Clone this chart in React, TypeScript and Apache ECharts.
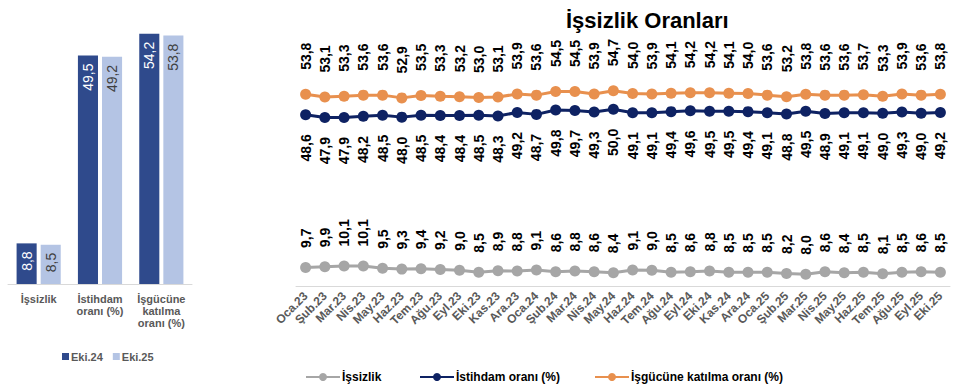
import React, { useEffect, useRef } from "react";
import * as echarts from "echarts";

const barCategories = ["İşsizlik", "İstihdam\noranı (%)", "İşgücüne\nkatılma\noranı (%)"];
const barEki24 = [8.8, 49.5, 54.2];
const barEki25 = [8.5, 49.2, 53.8];

const months = [
  "Oca.23", "Şub.23", "Mar.23", "Nis.23", "May.23", "Haz.23", "Tem.23", "Ağu.23", "Eyl.23", "Eki.23", "Kas.23", "Ara.23",
  "Oca.24", "Şub.24", "Mar.24", "Nis.24", "May.24", "Haz.24", "Tem.24", "Ağu.24", "Eyl.24", "Eki.24", "Kas.24", "Ara.24",
  "Oca.25", "Şub.25", "Mar.25", "Nis.25", "May.25", "Haz.25", "Tem.25", "Ağu.25", "Eyl.25", "Eki.25",
];
const issizlik = [
  9.7, 9.9, 10.1, 10.1, 9.5, 9.3, 9.4, 9.2, 9.0, 8.5, 8.9, 8.8,
  9.1, 8.6, 8.8, 8.6, 8.4, 9.1, 9.0, 8.5, 8.6, 8.8, 8.5, 8.5,
  8.5, 8.2, 8.0, 8.6, 8.4, 8.5, 8.1, 8.5, 8.6, 8.5,
];
const istihdam = [
  48.6, 47.9, 47.9, 48.2, 48.5, 48.0, 48.5, 48.4, 48.4, 48.5, 48.3, 49.2,
  48.7, 49.8, 49.7, 49.3, 50.0, 49.1, 49.1, 49.4, 49.6, 49.5, 49.5, 49.4,
  49.1, 48.8, 49.5, 48.9, 49.1, 49.1, 49.0, 49.3, 49.0, 49.2,
];
const katilma = [
  53.8, 53.1, 53.3, 53.6, 53.6, 52.9, 53.5, 53.3, 53.2, 53.0, 53.1, 53.9,
  53.6, 54.5, 54.5, 53.9, 54.7, 54.0, 53.9, 54.1, 54.2, 54.2, 54.1, 54.0,
  53.6, 53.2, 53.8, 53.6, 53.6, 53.7, 53.3, 53.9, 53.6, 53.8,
];
const lineNames = ["İşsizlik", "İstihdam oranı (%)", "İşgücüne katılma oranı (%)"];

const FONT = "'Liberation Sans', Arial, sans-serif";
const fmt = (p: any) => Number(p.value).toFixed(1).replace(".", ",");

const C_DARK = "#2F4A8C";
const C_LIGHT = "#B4C4E4";
const C_GRAY = "#A6A6A6";
const C_NAVY = "#0E2263";
const C_ORANGE = "#E8904E";

export default function App() {
  const ref = useRef<HTMLDivElement>(null);
  useEffect(() => {
    if (!ref.current) return;
    const chart = echarts.init(ref.current, undefined, { renderer: "svg" });
    const lineLabel = (pos: "top" | "bottom", dist: number) => ({
      show: true,
      position: pos,
      rotate: 90,
      align: pos === "top" ? "left" : "right",
      verticalAlign: "middle",
      distance: dist,
      formatter: fmt,
      fontFamily: FONT,
      fontSize: 14,
      fontWeight: "bold",
      color: "#000",
    });
    const lineLegend = (name: string, left: number) => ({
      data: [name],
      left,
      top: 366,
      itemWidth: 34,
      itemHeight: 10,
      textStyle: { fontFamily: FONT, fontSize: 12, fontWeight: "bold", color: "#000", padding: [0, 0, 0, -3] },
    });
    const barLabel = (color: string) => ({
      show: true,
      position: "insideTop",
      rotate: 90,
      align: "right",
      verticalAlign: "middle",
      distance: 8,
      formatter: fmt,
      fontFamily: FONT,
      fontSize: 14,
      color,
    });
    chart.setOption({
      animation: false,
      title: {
        text: "İşsizlik Oranları",
        left: 561,
        top: 4,
        textStyle: { fontFamily: FONT, fontSize: 22, fontWeight: "bold", color: "#000" },
      },
      legend: [
        {
          data: ["Eki.24", "Eki.25"],
          left: 57,
          top: 346,
          icon: "rect",
          itemWidth: 7,
          itemHeight: 7,
          itemGap: 10,
          textStyle: { fontFamily: FONT, fontSize: 11, fontWeight: "bold", color: "#595959", padding: [0, 0, 0, -3] },
        },
        lineLegend(lineNames[0], 300),
        lineLegend(lineNames[1], 414),
        lineLegend(lineNames[2], 589),
      ],
      grid: [
        { left: 8, width: 184, top: 7, bottom: 106 },
        { left: 296, right: 10, top: 70, bottom: 104 },
      ],
      xAxis: [
        {
          type: "category",
          gridIndex: 0,
          data: barCategories,
          axisLine: { lineStyle: { color: "#D9D9D9", width: 1 } },
          axisTick: { show: false },
          axisLabel: {
            interval: 0,
            fontFamily: FONT,
            fontSize: 11,
            fontWeight: "bold",
            color: "#595959",
            lineHeight: 12,
            margin: 9,
          },
        },
        {
          type: "category",
          gridIndex: 1,
          data: months,
          boundaryGap: true,
          axisLine: { lineStyle: { color: "#D9D9D9", width: 1 } },
          axisTick: { show: false },
          axisLabel: {
            interval: 0,
            rotate: 45,
            fontFamily: FONT,
            fontSize: 12,
            fontWeight: "bold",
            color: "#595959",
            margin: 8,
          },
        },
      ],
      yAxis: [
        { type: "value", gridIndex: 0, min: 0, max: 60, show: false },
        { type: "value", gridIndex: 1, min: 5, max: 60, show: false },
      ],
      series: [
        {
          name: "Eki.24",
          type: "bar",
          xAxisIndex: 0,
          yAxisIndex: 0,
          data: barEki24,
          barGap: "20%",
          barCategoryGap: "28%",
          itemStyle: { color: C_DARK },
          label: barLabel("#fff"),
        },
        {
          name: "Eki.25",
          type: "bar",
          xAxisIndex: 0,
          yAxisIndex: 0,
          data: barEki25,
          itemStyle: { color: C_LIGHT },
          label: barLabel("#404040"),
        },
        {
          name: lineNames[0],
          type: "line",
          xAxisIndex: 1,
          yAxisIndex: 1,
          data: issizlik,
          symbol: "circle",
          symbolSize: 11,
          lineStyle: { color: C_GRAY, width: 3 },
          itemStyle: { color: C_GRAY },
          label: lineLabel("top", 14),
        },
        {
          name: lineNames[1],
          type: "line",
          xAxisIndex: 1,
          yAxisIndex: 1,
          data: istihdam,
          symbol: "circle",
          symbolSize: 11,
          lineStyle: { color: C_NAVY, width: 3 },
          itemStyle: { color: C_NAVY },
          label: lineLabel("bottom", 14),
        },
        {
          name: lineNames[2],
          type: "line",
          xAxisIndex: 1,
          yAxisIndex: 1,
          data: katilma,
          symbol: "circle",
          symbolSize: 11,
          lineStyle: { color: C_ORANGE, width: 3 },
          itemStyle: { color: C_ORANGE },
          label: lineLabel("top", 19),
        },
      ],
    });
    return () => chart.dispose();
  }, []);
  return (
    <div
      ref={ref}
      style={{ position: "fixed", left: 0, top: 0, width: 960, height: 390, background: "#fff" }}
    />
  );
}
